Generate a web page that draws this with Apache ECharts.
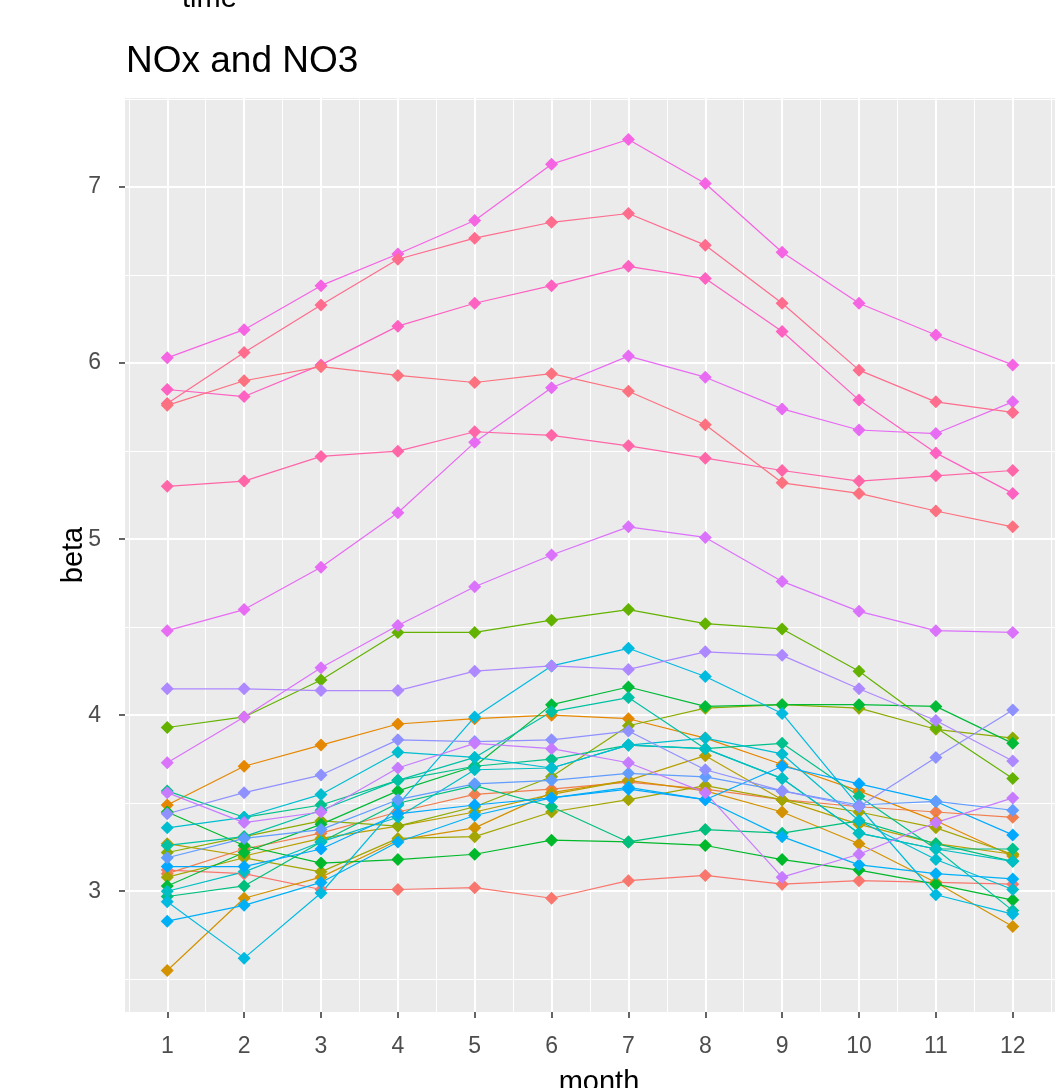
<!DOCTYPE html>
<html><head><meta charset="utf-8">
<script src="https://cdn.jsdelivr.net/npm/echarts@6/dist/echarts.min.js"></script>
<style>html,body{margin:0;padding:0;background:#fff}#c{width:1055px;height:1088px}</style>
</head><body><div id="c"></div>
<script>
// ---- data ----
const months = [1,2,3,4,5,6,7,8,9,10,11,12];
const yTicks = [3,4,5,6,7];
const yMinorTicks = [2.5,3.5,4.5,5.5,6.5,7.5];
const xMinorTicks = [0.5,1.5,2.5,3.5,4.5,5.5,6.5,7.5,8.5,9.5,10.5,11.5,12.5];

const s01 = [3.12,3.10,3.01,3.01,3.02,2.96,3.06,3.09,3.04,3.06,3.05,3.04];
const s02 = [3.10,3.24,3.33,3.45,3.55,3.58,3.62,3.58,3.52,3.48,3.45,3.42];
const s03 = [3.49,3.71,3.83,3.95,3.98,4.00,3.98,3.87,3.72,3.57,3.40,3.20];
const s04 = [2.55,2.96,3.08,3.29,3.36,3.56,3.63,3.57,3.45,3.27,3.05,2.80];
const s05 = [3.27,3.20,3.30,3.37,3.45,3.55,3.63,3.77,3.52,3.38,3.27,3.21];
const s06 = [3.08,3.19,3.11,3.30,3.31,3.45,3.52,3.60,3.52,3.45,3.36,3.21];
const s07 = [3.22,3.31,3.40,3.37,3.48,3.65,3.94,4.04,4.06,4.04,3.92,3.87];
const s08 = [3.93,3.99,4.20,4.47,4.47,4.54,4.60,4.52,4.49,4.25,3.93,3.64];
const s09 = [3.03,3.22,3.38,3.57,3.71,4.06,4.16,4.05,4.06,4.06,4.05,3.84];
const s10 = [3.45,3.26,3.16,3.18,3.21,3.29,3.28,3.26,3.18,3.12,3.04,2.95];
const s11 = [2.97,3.03,3.28,3.50,3.60,3.48,3.28,3.35,3.33,3.40,3.27,3.17];
const s12 = [3.57,3.42,3.49,3.63,3.71,3.75,3.83,3.81,3.84,3.54,3.24,3.24];
const s13 = [3.26,3.31,3.46,3.63,3.76,4.02,4.10,3.81,3.64,3.33,3.24,2.89];
const s14 = [3.00,3.11,3.28,3.42,3.69,3.70,3.83,3.81,3.64,3.33,3.24,3.17];
const s15 = [3.36,3.42,3.55,3.79,3.76,3.70,3.83,3.87,3.78,3.40,3.18,3.01];
const s16 = [2.94,2.62,2.99,3.49,3.99,4.28,4.38,4.22,4.01,3.48,2.98,2.87];
const s17 = [2.83,2.92,3.05,3.28,3.43,3.53,3.59,3.52,3.31,3.15,3.10,3.07];
const s18 = [3.14,3.14,3.24,3.44,3.49,3.53,3.58,3.52,3.71,3.61,3.51,3.32];
const s19 = [3.19,3.30,3.35,3.52,3.61,3.63,3.67,3.65,3.57,3.49,3.51,3.46];
const s20 = [3.44,3.56,3.66,3.86,3.85,3.86,3.91,3.69,3.57,3.48,3.76,4.03];
const s21 = [4.15,4.15,4.14,4.14,4.25,4.28,4.26,4.36,4.34,4.15,3.97,3.74];
const s22 = [3.56,3.39,3.45,3.70,3.84,3.81,3.73,3.56,3.08,3.21,3.39,3.53];
const s23 = [3.73,3.99,4.27,4.51,4.73,4.91,5.07,5.01,4.76,4.59,4.48,4.47];
const s24 = [4.48,4.60,4.84,5.15,5.55,5.86,6.04,5.92,5.74,5.62,5.60,5.78];
const s25 = [6.03,6.19,6.44,6.62,6.81,7.13,7.27,7.02,6.63,6.34,6.16,5.99];
const s26 = [5.85,5.81,5.99,6.21,6.34,6.44,6.55,6.48,6.18,5.79,5.49,5.26];
const s27 = [5.30,5.33,5.47,5.50,5.61,5.59,5.53,5.46,5.39,5.33,5.36,5.39];
const s28 = [5.77,6.06,6.33,6.59,6.71,6.80,6.85,6.67,6.34,5.96,5.78,5.72];
const s29 = [5.76,5.90,5.98,5.93,5.89,5.94,5.84,5.65,5.32,5.26,5.16,5.07];

const seriesValues = [s01,s02,s03,s04,s05,s06,s07,s08,s09,s10,s11,s12,s13,s14,s15,
  s16,s17,s18,s19,s20,s21,s22,s23,s24,s25,s26,s27,s28,s29];
const seriesNames = seriesValues.map((_, i) => 'time ' + (i + 1));
const seriesColors = ['#F8766D','#F07E4E','#E58700','#D39200','#B79F00','#A3A500','#8CAB00',
  '#64B200','#00BA38','#00B92A','#00BF7D','#00C08B','#00C1A3','#00BFC4','#00BDD0',
  '#00BAE0','#00B0F6','#00A9FF','#619CFF','#8F91FF','#AD88FF','#C77CFF','#DB72FB',
  '#E76BF3','#F564E3','#FD61C1','#FF66A8','#FE6C8E','#FC717F'];

// ---- chart ----
const chart = echarts.init(document.getElementById('c'), null, {renderer: 'canvas'});
const FONT = 'Liberation Sans, Arial, sans-serif';
const lineSeries = seriesValues.map((vals, i) => ({
  type: 'line', name: seriesNames[i], xAxisIndex: 0, yAxisIndex: 0,
  data: months.map((m, j) => [m, vals[j]]),
  showSymbol: false, silent: true, z: 2,
  lineStyle: {color: seriesColors[i], width: 1.2},
  itemStyle: {color: seriesColors[i]}
}));
const pointSeries = seriesValues.map((vals, i) => ({
  type: 'scatter', name: seriesNames[i], xAxisIndex: 0, yAxisIndex: 0,
  data: months.map((m, j) => [m, vals[j]]),
  symbol: 'diamond', symbolSize: 13, silent: true, z: 3,
  itemStyle: {color: seriesColors[i], opacity: 1}
}));

chart.setOption({
  animation: false,
  backgroundColor: '#ffffff',
  grid: {left: 125, top: 98, width: 949, height: 914, show: true,
         backgroundColor: '#EBEBEB', borderWidth: 0, containLabel: false},
  xAxis: [{
    type: 'value', min: 0.45, max: 12.55, position: 'bottom',
    axisLine: {show: false},
    axisTick: {show: true, customValues: months, length: 6, lineStyle: {color: '#333333', width: 1.5}},
    axisLabel: {show: true, customValues: months, fontSize: 23, color: '#4D4D4D', margin: 23, fontFamily: FONT},
    splitLine: {show: true, lineStyle: {color: '#FFFFFF', width: 2}}
  }, {
    type: 'value', min: 0.45, max: 12.55, position: 'top',
    axisLine: {show: false},
    axisTick: {show: false, customValues: xMinorTicks},
    axisLabel: {show: false, customValues: xMinorTicks},
    splitLine: {show: true, lineStyle: {color: '#FFFFFF', width: 1}}
  }],
  yAxis: [{
    type: 'value', min: 2.314, max: 7.506, position: 'left',
    axisLine: {show: false},
    axisTick: {show: true, customValues: yTicks, length: 6, lineStyle: {color: '#333333', width: 1.5}},
    axisLabel: {show: true, customValues: yTicks, fontSize: 23, color: '#4D4D4D', margin: 24, fontFamily: FONT},
    splitLine: {show: true, lineStyle: {color: '#FFFFFF', width: 2}}
  }, {
    type: 'value', min: 2.314, max: 7.506, position: 'right',
    axisLine: {show: false},
    axisTick: {show: false, customValues: yMinorTicks},
    axisLabel: {show: false, customValues: yMinorTicks},
    splitLine: {show: true, lineStyle: {color: '#FFFFFF', width: 1}}
  }],
  graphic: [
    {type: 'text', x: 126, y: 43, style: {text: 'NOx and NO3', fontSize: 37, fill: '#000', fontFamily: FONT, verticalAlign: 'top'}},
    {type: 'text', x: 182, y: -16, style: {text: 'time', fontSize: 29, fill: '#000', fontFamily: FONT, verticalAlign: 'top'}},
    {type: 'text', x: 599, y: 1068, style: {text: 'month', fontSize: 29, fill: '#000', fontFamily: FONT, align: 'center', verticalAlign: 'top'}},
    {type: 'text', x: 74, y: 555, rotation: Math.PI / 2, style: {text: 'beta', fontSize: 29, fill: '#000', fontFamily: FONT, align: 'center', verticalAlign: 'middle'}}
  ],
  series: lineSeries.concat(pointSeries)
});
</script></body></html>
